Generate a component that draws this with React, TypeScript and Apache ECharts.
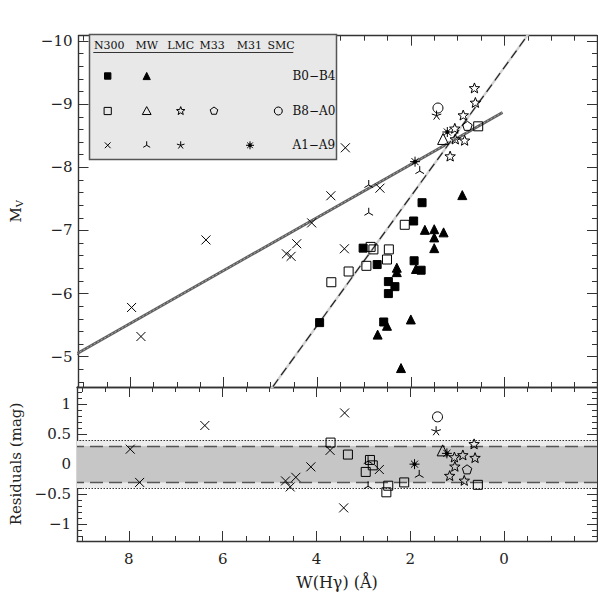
import React, { useEffect, useRef } from "react";
import * as echarts from "echarts";

// ---------------- data ----------------
// W(Hgamma) [Å], M_V, residual [mag]
const N300_B0B4_W = [1.76, 1.94, 3.02, 2.72, 1.93, 1.78, 2.48, 2.34, 2.48, 3.95, 2.58];
const N300_B0B4_MV = [-7.44, -7.15, -6.72, -6.46, -6.52, -6.37, -6.19, -6.11, -6.0, -5.54, -5.55];

const MW_B0B4_W = [0.9, 1.7, 1.5, 1.3, 1.5, 1.5, 1.89, 2.3, 2.3, 2.51, 2.0, 2.71, 2.21];
const MW_B0B4_MV = [-7.56, -7.01, -7.02, -6.97, -6.89, -6.72, -6.39, -6.41, -6.34, -5.49, -5.59, -5.35, -4.82];

const N300_B8A0_W = [3.7, 3.33, 2.95, 2.86, 2.8, 2.51, 2.47, 2.13, 0.56];
const N300_B8A0_MV = [-6.18, -6.35, -6.44, -6.74, -6.7, -6.54, -6.7, -7.09, -8.65];
const N300_B8A0_RES = [0.36, 0.16, -0.13, 0.07, -0.02, -0.47, -0.36, -0.305, -0.345];

const MW_B8A0_W = [1.31];
const MW_B8A0_MV = [-8.45];
const MW_B8A0_RES = [0.23];

const LMC_B8A0_W = [0.64, 0.62, 0.88, 1.06, 1.05, 0.85, 1.16];
const LMC_B8A0_MV = [-9.25, -9.02, -8.82, -8.61, -8.44, -8.42, -8.17];
const LMC_B8A0_RES = [0.33, 0.1, 0.145, 0.11, -0.045, -0.28, -0.2];

const M33_B8A0_W = [0.79];
const M33_B8A0_MV = [-8.65];
const M33_B8A0_RES = [-0.095];

const SMC_B8A0_W = [1.42];
const SMC_B8A0_MV = [-8.94];
const SMC_B8A0_RES = [0.79];

const N300_A1A9_W = [7.97, 7.77, 6.38, 4.66, 4.56, 4.44, 4.12, 3.71, 3.42, 3.4, 2.66];
const N300_A1A9_MV = [-5.78, -5.32, -6.85, -6.63, -6.59, -6.79, -7.12, -7.55, -6.71, -8.31, -7.67];
const N300_A1A9_RES = [0.25, -0.305, 0.645, -0.28, -0.38, -0.22, -0.045, 0.23, -0.73, 0.855, -0.09];

const MW_A1A9_W = [2.9, 2.9, 1.81];
const MW_A1A9_MV = [-7.72, -7.28, -7.94];
const MW_A1A9_RES = [0.05, -0.37, -0.18];

const LMC_A1A9_W = [1.45];
const LMC_A1A9_MV = [-8.82];
const LMC_A1A9_RES = [0.55];

const M31_A1A9_W = [1.22, 1.91];
const M31_A1A9_MV = [-8.56, -8.09];
const M31_A1A9_RES = [0.18, 0.0];

// fits: M_V = c0 + c1 * W, drawn between the given W values
const FIT_A1A9_W = [9.3, 0.04];
const FIT_A1A9_COEF = [-8.887, 0.42];
const FIT_B8A0_W = [5.3, -0.7];
const FIT_B8A0_COEF = [-9.585, 1.022];

// residual bands
const BAND_INNER = [-0.305, 0.305];
const BAND_OUTER = [-0.4, 0.4];

// axis extents
const W_RANGE = [-1.98, 9.105];
const MV_RANGE = [-10.086, -4.52];
const RES_RANGE = [-1.283, 1.288];

// legend texts
const LEGEND_COLUMNS = ["N300", "MW", "LMC", "M33", "M31", "SMC"];
const LEGEND_ROWS = ["B0−B4", "B8−A0", "A1−A9"];

// ---------------- symbol geometry ----------------
const DEG = Math.PI / 180;
const polar = (r: number, a: number) => [r * Math.cos(a * DEG), r * Math.sin(a * DEG)];
const f = (n: number) => n.toFixed(4);
const polyD = (pts: number[][]) =>
  "M" + pts.map((p) => f(p[0]) + " " + f(p[1])).join("L") + "Z";
const raysD = (angles: number[]) =>
  angles.map((a) => { const p = polar(1, a); return `M0 0L${f(p[0])} ${f(p[1])}`; }).join("");
const PAD = "M-1 -1M1 1";
const STAR_PTS = Array.from({ length: 10 }, (_, i) => polar(i % 2 ? 0.42 : 1, -90 + i * 36));
const PENT_PTS = Array.from({ length: 5 }, (_, i) => polar(1, -90 + i * 72));
const OCT_PTS = Array.from({ length: 8 }, (_, i) => polar(0.32, i * 45 + 22.5));
const TRI3_ANG = [-90, 30, 150];
const AST5_ANG = [-90, -18, 54, 126, 198];
const BURST_ANG = [0, 45, 90, 135, 180, 225, 270, 315];

const SYM = {
  cross: "path://M-1 -1L1 1M-1 1L1 -1",
  star: "path://" + PAD + polyD(STAR_PTS),
  pent: "path://" + PAD + polyD(PENT_PTS),
  tri3: "path://" + PAD + raysD(TRI3_ANG),
  ast5: "path://" + PAD + raysD(AST5_ANG),
  burst: "path://" + PAD + raysD(BURST_ANG) + polyD(OCT_PTS),
};

const FONT = "DejaVu Serif";
const AXIS_COLOR = "#333";

type Kind = "fsq" | "osq" | "ftri" | "otri" | "star" | "pent" | "circ" | "cross" | "tri3" | "ast5" | "burst";

const KIND_STYLE: Record<Kind, { symbol: string; size: number; fill: string }> = {
  fsq: { symbol: "rect", size: 8, fill: "#000" },
  osq: { symbol: "rect", size: 9, fill: "rgba(0,0,0,0)" },
  ftri: { symbol: "triangle", size: 9, fill: "#000" },
  otri: { symbol: "triangle", size: 11, fill: "rgba(0,0,0,0)" },
  star: { symbol: SYM.star, size: 11, fill: "rgba(0,0,0,0)" },
  pent: { symbol: SYM.pent, size: 10, fill: "rgba(0,0,0,0)" },
  circ: { symbol: "circle", size: 10, fill: "rgba(0,0,0,0)" },
  cross: { symbol: SYM.cross, size: 9, fill: "rgba(0,0,0,0)" },
  tri3: { symbol: SYM.tri3, size: 10, fill: "rgba(0,0,0,0)" },
  ast5: { symbol: SYM.ast5, size: 10, fill: "rgba(0,0,0,0)" },
  burst: { symbol: SYM.burst, size: 10, fill: "#000" },
};

function scatter(name: string, xs: number[], ys: number[], kind: Kind, panel: 0 | 1) {
  const k = KIND_STYLE[kind];
  return {
    name,
    type: "scatter",
    xAxisIndex: panel === 0 ? 0 : 2,
    yAxisIndex: panel === 0 ? 0 : 2,
    symbol: k.symbol,
    symbolSize: k.size,
    symbolKeepAspect: true,
    silent: true,
    z: 5,
    itemStyle: { color: k.fill, borderColor: "#000", borderWidth: 1, opacity: 1 },
    data: xs.map((x, i) => [x, ys[i]]),
  };
}

function fitLine(ws: number[], coef: number[]) {
  return ws.map((w) => [w, coef[0] + coef[1] * w]);
}

// legend marks drawn with graphic primitives
function legendMark(kind: Kind, cx: number, cy: number, s: number): any[] {
  const h = s / 2;
  const stroke = { stroke: "#000", lineWidth: 1, fill: "transparent" };
  const solid = { stroke: "#000", lineWidth: 1, fill: "#000" };
  const pts = (arr: number[][]) => arr.map((p) => [cx + p[0] * h, cy + p[1] * h]);
  const rays = (angles: number[]) =>
    angles.map((a) => {
      const p = polar(h, a);
      return { type: "line", shape: { x1: cx, y1: cy, x2: cx + p[0], y2: cy + p[1] }, style: { stroke: "#000", lineWidth: 1 } };
    });
  switch (kind) {
    case "fsq": return [{ type: "rect", shape: { x: cx - h, y: cy - h, width: s, height: s }, style: solid }];
    case "osq": return [{ type: "rect", shape: { x: cx - h, y: cy - h, width: s, height: s }, style: stroke }];
    case "ftri": return [{ type: "polygon", shape: { points: [[cx, cy - h], [cx + h, cy + h], [cx - h, cy + h]] }, style: solid }];
    case "otri": return [{ type: "polygon", shape: { points: [[cx, cy - h], [cx + h, cy + h * 0.8], [cx - h, cy + h * 0.8]] }, style: stroke }];
    case "star": return [{ type: "polygon", shape: { points: pts(STAR_PTS) }, style: stroke }];
    case "pent": return [{ type: "polygon", shape: { points: pts(PENT_PTS) }, style: stroke }];
    case "circ": return [{ type: "circle", shape: { cx, cy, r: h }, style: stroke }];
    case "cross": return [
      { type: "line", shape: { x1: cx - h * 0.8, y1: cy - h * 0.8, x2: cx + h * 0.8, y2: cy + h * 0.8 }, style: { stroke: "#000", lineWidth: 1 } },
      { type: "line", shape: { x1: cx - h * 0.8, y1: cy + h * 0.8, x2: cx + h * 0.8, y2: cy - h * 0.8 }, style: { stroke: "#000", lineWidth: 1 } },
    ];
    case "tri3": return rays(TRI3_ANG);
    case "ast5": return rays(AST5_ANG);
    case "burst": return [...rays(BURST_ANG), { type: "circle", shape: { cx, cy, r: h * 0.35 }, style: solid }];
  }
  return [];
}

const LEG_BOX = { x: 89.5, y: 34.5, w: 247, h: 125 };
const LEG_COL_X = [107.7, 146.7, 180.7, 214, 250, 278.3];
const LEG_HEAD_CX = [109.2, 146.7, 180.7, 212.2, 249.3, 281];
const LEG_ROW_Y = [76, 111, 145.3];
const LEG_MARKS: [number, number, Kind][] = [
  [0, 0, "fsq"], [0, 1, "ftri"],
  [1, 0, "osq"], [1, 1, "otri"], [1, 2, "star"], [1, 3, "pent"], [1, 5, "circ"],
  [2, 0, "cross"], [2, 1, "tri3"], [2, 2, "ast5"], [2, 4, "burst"],
];

function buildGraphic() {
  const els: any[] = [];
  els.push({
    type: "rect",
    shape: { x: LEG_BOX.x, y: LEG_BOX.y, width: LEG_BOX.w, height: LEG_BOX.h },
    style: { fill: "#e8e8e8", stroke: "#555", lineWidth: 1.5 },
    z: 10,
  });
  LEGEND_COLUMNS.forEach((t, i) => {
    els.push({
      type: "text", x: LEG_HEAD_CX[i], y: 45, z: 11,
      style: {
        text: t, font: `11px "${FONT}"`, fill: "#111",
        textAlign: "center", align: "center", textVerticalAlign: "middle", verticalAlign: "middle",
      },
    });
  });
  els.push({ type: "line", z: 11, shape: { x1: 93.3, y1: 52.5, x2: 293.3, y2: 52.5 }, style: { stroke: "#333", lineWidth: 1 } });
  LEGEND_ROWS.forEach((t, i) => {
    els.push({
      type: "text", x: 292.5, y: LEG_ROW_Y[i], z: 11,
      style: { text: t, font: `12px "${FONT}"`, fill: "#111", textVerticalAlign: "middle", verticalAlign: "middle" },
    });
  });
  LEG_MARKS.forEach(([r, c, k]) => {
    const size = KIND_STYLE[k].size * 0.8;
    legendMark(k, LEG_COL_X[c], LEG_ROW_Y[r], size).forEach((e) => els.push({ ...e, z: 12 }));
  });
  return els;
}

const minus = (v: number) => String(v).replace("-", "−");

function xAxis(grid: number, position: "top" | "bottom", labels: boolean, name?: string) {
  return {
    type: "value",
    gridIndex: grid,
    position,
    inverse: true,
    min: W_RANGE[0],
    max: W_RANGE[1],
    splitLine: { show: false },
    axisLine: { show: true, onZero: false, lineStyle: { color: AXIS_COLOR, width: 1.4 } },
    axisTick: { show: true, inside: true, length: 10, lineStyle: { color: AXIS_COLOR, width: 1 } },
    minorTick: { show: true, splitNumber: 4, length: 5, lineStyle: { color: AXIS_COLOR, width: 1 } },
    axisLabel: {
      show: labels, showMinLabel: false, showMaxLabel: false, margin: 10,
      fontFamily: FONT, fontSize: 15, color: "#222", formatter: minus,
    },
    name: name || "",
    nameLocation: "middle",
    nameGap: 33,
    nameTextStyle: { fontFamily: FONT, fontSize: 16, color: "#222" },
  };
}

function yAxis(grid: number, position: "left" | "right", range: number[], inverse: boolean, minor: number, labels: boolean, name?: string, rich?: any) {
  return {
    type: "value",
    gridIndex: grid,
    position,
    inverse,
    min: range[0],
    max: range[1],
    splitLine: { show: false },
    axisLine: { show: true, onZero: false, lineStyle: { color: AXIS_COLOR, width: 1.4 } },
    axisTick: { show: true, inside: true, length: 10, lineStyle: { color: AXIS_COLOR, width: 1 } },
    minorTick: { show: true, splitNumber: minor, length: 5, lineStyle: { color: AXIS_COLOR, width: 1 } },
    axisLabel: {
      show: labels, showMinLabel: false, showMaxLabel: false, margin: 6,
      fontFamily: FONT, fontSize: 15, color: "#222", formatter: minus,
    },
    name: name || "",
    nameLocation: "middle",
    nameRotate: 90,
    nameGap: 54,
    nameTextStyle: { fontFamily: FONT, fontSize: 15, color: "#222", rich },
  };
}

function buildOption() {
  return {
    animation: false,
    backgroundColor: "#fff",
    grid: [
      { left: 76, right: 1, top: 1, height: 386 },
      { left: 76, right: 1, top: 387, height: 154 },
    ],
    xAxis: [
      xAxis(0, "bottom", false),
      xAxis(0, "top", false),
      xAxis(1, "bottom", true, "W(Hγ) (Å)"),
      xAxis(1, "top", false),
    ],
    yAxis: [
      yAxis(0, "left", MV_RANGE, true, 5, true, "{a|M}{b|V}", {
        a: { fontFamily: FONT, fontSize: 15, color: "#222" },
        b: { fontFamily: FONT, fontSize: 10, color: "#222", verticalAlign: "bottom", padding: [8, 0, 0, 0] },
      }),
      yAxis(0, "right", MV_RANGE, true, 5, false),
      yAxis(1, "left", RES_RANGE, false, 5, true, "Residuals (mag)"),
      yAxis(1, "right", RES_RANGE, false, 5, false),
    ],
    graphic: buildGraphic(),
    series: [
      // residual bands
      {
        type: "line",
        xAxisIndex: 2,
        yAxisIndex: 2,
        data: [],
        silent: true,
        z: 1,
        markArea: {
          silent: true,
          data: [
            [{ yAxis: BAND_OUTER[0], itemStyle: { color: "#ececec" } }, { yAxis: BAND_OUTER[1] }],
            [{ yAxis: BAND_INNER[0], itemStyle: { color: "#c6c6c6" } }, { yAxis: BAND_INNER[1] }],
          ],
        },
        markLine: {
          silent: true,
          symbol: ["none", "none"],
          label: { show: false },
          data: [
            { yAxis: BAND_INNER[0], lineStyle: { type: [13, 6], color: "#555", width: 1.3 } },
            { yAxis: BAND_INNER[1], lineStyle: { type: [13, 6], color: "#555", width: 1.3 } },
            { yAxis: BAND_OUTER[0], lineStyle: { type: [1.5, 1.5], color: "#333", width: 1 } },
            { yAxis: BAND_OUTER[1], lineStyle: { type: [1.5, 1.5], color: "#333", width: 1 } },
          ],
        },
      },
      // fit lines
      {
        type: "line", xAxisIndex: 0, yAxisIndex: 0, symbol: "none", silent: true, z: 2, clip: true,
        lineStyle: { color: "#5e5e5e", width: 2.8 },
        data: fitLine(FIT_A1A9_W, FIT_A1A9_COEF),
      },
      {
        type: "line", xAxisIndex: 0, yAxisIndex: 0, symbol: "none", silent: true, z: 3, clip: true,
        lineStyle: { color: "#a8a8a8", width: 1, type: [2, 2] },
        data: fitLine(FIT_A1A9_W, FIT_A1A9_COEF),
      },
      {
        type: "line", xAxisIndex: 0, yAxisIndex: 0, symbol: "none", silent: true, z: 2, clip: true,
        lineStyle: { color: "#d2d2d2", width: 2.4 },
        data: fitLine(FIT_B8A0_W, FIT_B8A0_COEF),
      },
      {
        type: "line", xAxisIndex: 0, yAxisIndex: 0, symbol: "none", silent: true, z: 3, clip: true,
        lineStyle: { color: "#222", width: 1.2, type: [9, 5] },
        data: fitLine(FIT_B8A0_W, FIT_B8A0_COEF),
      },
      // upper panel
      scatter("N300 B0-B4", N300_B0B4_W, N300_B0B4_MV, "fsq", 0),
      scatter("MW B0-B4", MW_B0B4_W, MW_B0B4_MV, "ftri", 0),
      scatter("N300 B8-A0", N300_B8A0_W, N300_B8A0_MV, "osq", 0),
      scatter("MW B8-A0", MW_B8A0_W, MW_B8A0_MV, "otri", 0),
      scatter("LMC B8-A0", LMC_B8A0_W, LMC_B8A0_MV, "star", 0),
      scatter("M33 B8-A0", M33_B8A0_W, M33_B8A0_MV, "pent", 0),
      scatter("SMC B8-A0", SMC_B8A0_W, SMC_B8A0_MV, "circ", 0),
      scatter("N300 A1-A9", N300_A1A9_W, N300_A1A9_MV, "cross", 0),
      scatter("MW A1-A9", MW_A1A9_W, MW_A1A9_MV, "tri3", 0),
      scatter("LMC A1-A9", LMC_A1A9_W, LMC_A1A9_MV, "ast5", 0),
      scatter("M31 A1-A9", M31_A1A9_W, M31_A1A9_MV, "burst", 0),
      // residual panel
      scatter("N300 B8-A0 res", N300_B8A0_W, N300_B8A0_RES, "osq", 1),
      scatter("MW B8-A0 res", MW_B8A0_W, MW_B8A0_RES, "otri", 1),
      scatter("LMC B8-A0 res", LMC_B8A0_W, LMC_B8A0_RES, "star", 1),
      scatter("M33 B8-A0 res", M33_B8A0_W, M33_B8A0_RES, "pent", 1),
      scatter("SMC B8-A0 res", SMC_B8A0_W, SMC_B8A0_RES, "circ", 1),
      scatter("N300 A1-A9 res", N300_A1A9_W, N300_A1A9_RES, "cross", 1),
      scatter("MW A1-A9 res", MW_A1A9_W, MW_A1A9_RES, "tri3", 1),
      scatter("LMC A1-A9 res", LMC_A1A9_W, LMC_A1A9_RES, "ast5", 1),
      scatter("M31 A1-A9 res", M31_A1A9_W, M31_A1A9_RES, "burst", 1),
    ],
  };
}

export default function App() {
  const ref = useRef<HTMLDivElement>(null);
  useEffect(() => {
    if (!ref.current) return;
    const chart = echarts.init(ref.current, null, { renderer: "svg" });
    chart.setOption(buildOption() as any);
    return () => chart.dispose();
  }, []);
  return (
    <div
      ref={ref}
      style={{ position: "fixed", left: 0, top: 0, width: 598, height: 593, background: "#fff" }}
    />
  );
}
